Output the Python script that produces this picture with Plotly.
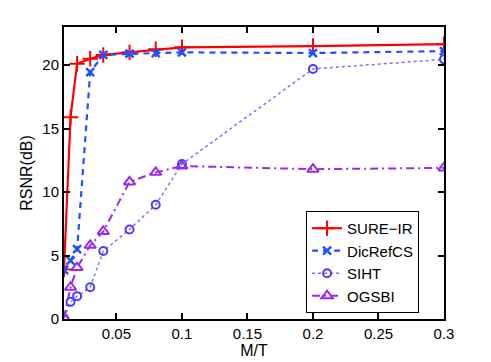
import plotly.graph_objects as go

# M/T Werte und RSNR(dB) je Verfahren
mt = [0.01, 0.015, 0.02, 0.03, 0.04, 0.06, 0.08, 0.1, 0.2, 0.3]
sure_ir = [3.9, 15.9, 20.1, 20.5, 20.8, 21.0, 21.25, 21.4, 21.5, 21.65]
dicrefcs = [3.85, 4.6, 5.5, 19.45, 20.8, 20.9, 20.95, 21.0, 20.95, 21.1]
siht = [0.05, 1.35, 1.8, 2.5, 5.35, 7.05, 9.0, 12.2, 19.7, 20.45]
ogsbi = [0.1, 2.5, 4.05, 5.8, 6.9, 10.8, 11.55, 12.05, 11.8, 11.9]

x_ticks = [0.05, 0.1, 0.15, 0.2, 0.25, 0.3]
y_ticks = [0, 5, 10, 15, 20]

FONT = "Liberation Sans, Arial, sans-serif"

fig = go.Figure()

fig.add_trace(go.Scatter(
    x=mt, y=sure_ir, name="SURE\u2212IR", mode="lines+markers",
    line=dict(color="#ff0000", width=2.2),
    marker=dict(symbol="cross-thin-open", size=11, line=dict(color="#ff0000", width=2)),
))
fig.add_trace(go.Scatter(
    x=mt, y=dicrefcs, name="DicRefCS", mode="lines+markers",
    line=dict(color="#2050ff", width=2.2, dash="6px,5px"),
    marker=dict(symbol="x-thin-open", size=8, line=dict(color="#2050ff", width=2.5)),
))
fig.add_trace(go.Scatter(
    x=mt, y=siht, name="SIHT", mode="lines+markers",
    line=dict(color="#7a70ff", width=1.5, dash="dot"),
    marker=dict(symbol="circle-open", size=8, color="#4a3cff", line=dict(color="#4a3cff", width=2)),
))
fig.add_trace(go.Scatter(
    x=mt, y=ogsbi, name="OGSBI", mode="lines+markers",
    line=dict(color="#9a28f0", width=2, dash="8px,4px,2px,4px"),
    marker=dict(symbol="triangle-up-open", size=10, color="#9a28f0", line=dict(color="#9a28f0", width=2)),
))

axis_style = dict(
    showgrid=False, zeroline=False, showline=True, linecolor="black", linewidth=2,
    mirror="allticks", ticks="inside", ticklen=6, tickwidth=1.5, tickcolor="black",
    tickfont=dict(family=FONT, size=15, color="black"), automargin=False,
)

fig.update_xaxes(
    range=[0.01, 0.3], tickvals=x_ticks, ticktext=["0.05", "0.1", "0.15", "0.2", "0.25", "0.3"],
    title=dict(text="M/T", font=dict(family=FONT, size=16, color="black"), standoff=2),
    **axis_style,
)
fig.update_yaxes(
    range=[0, 23], tickvals=y_ticks,
    title=dict(text="RSNR(dB)", font=dict(family=FONT, size=16, color="black"), standoff=6),
    **axis_style,
)

# Seite hat 8px body-margin, daher Ränder um 8px verschoben
fig.update_layout(
    width=491, height=362,
    margin=dict(l=56, r=55, t=19, b=51),
    paper_bgcolor="white", plot_bgcolor="white",
    font=dict(family=FONT, color="black"),
    legend=dict(
        x=0.637, y=0.37, xanchor="left", yanchor="top",
        bgcolor="white", bordercolor="black", borderwidth=1,
        font=dict(family=FONT, size=15, color="black"),
        itemwidth=30, tracegroupgap=0,
    ),
)

fig.write_html("out.html")
